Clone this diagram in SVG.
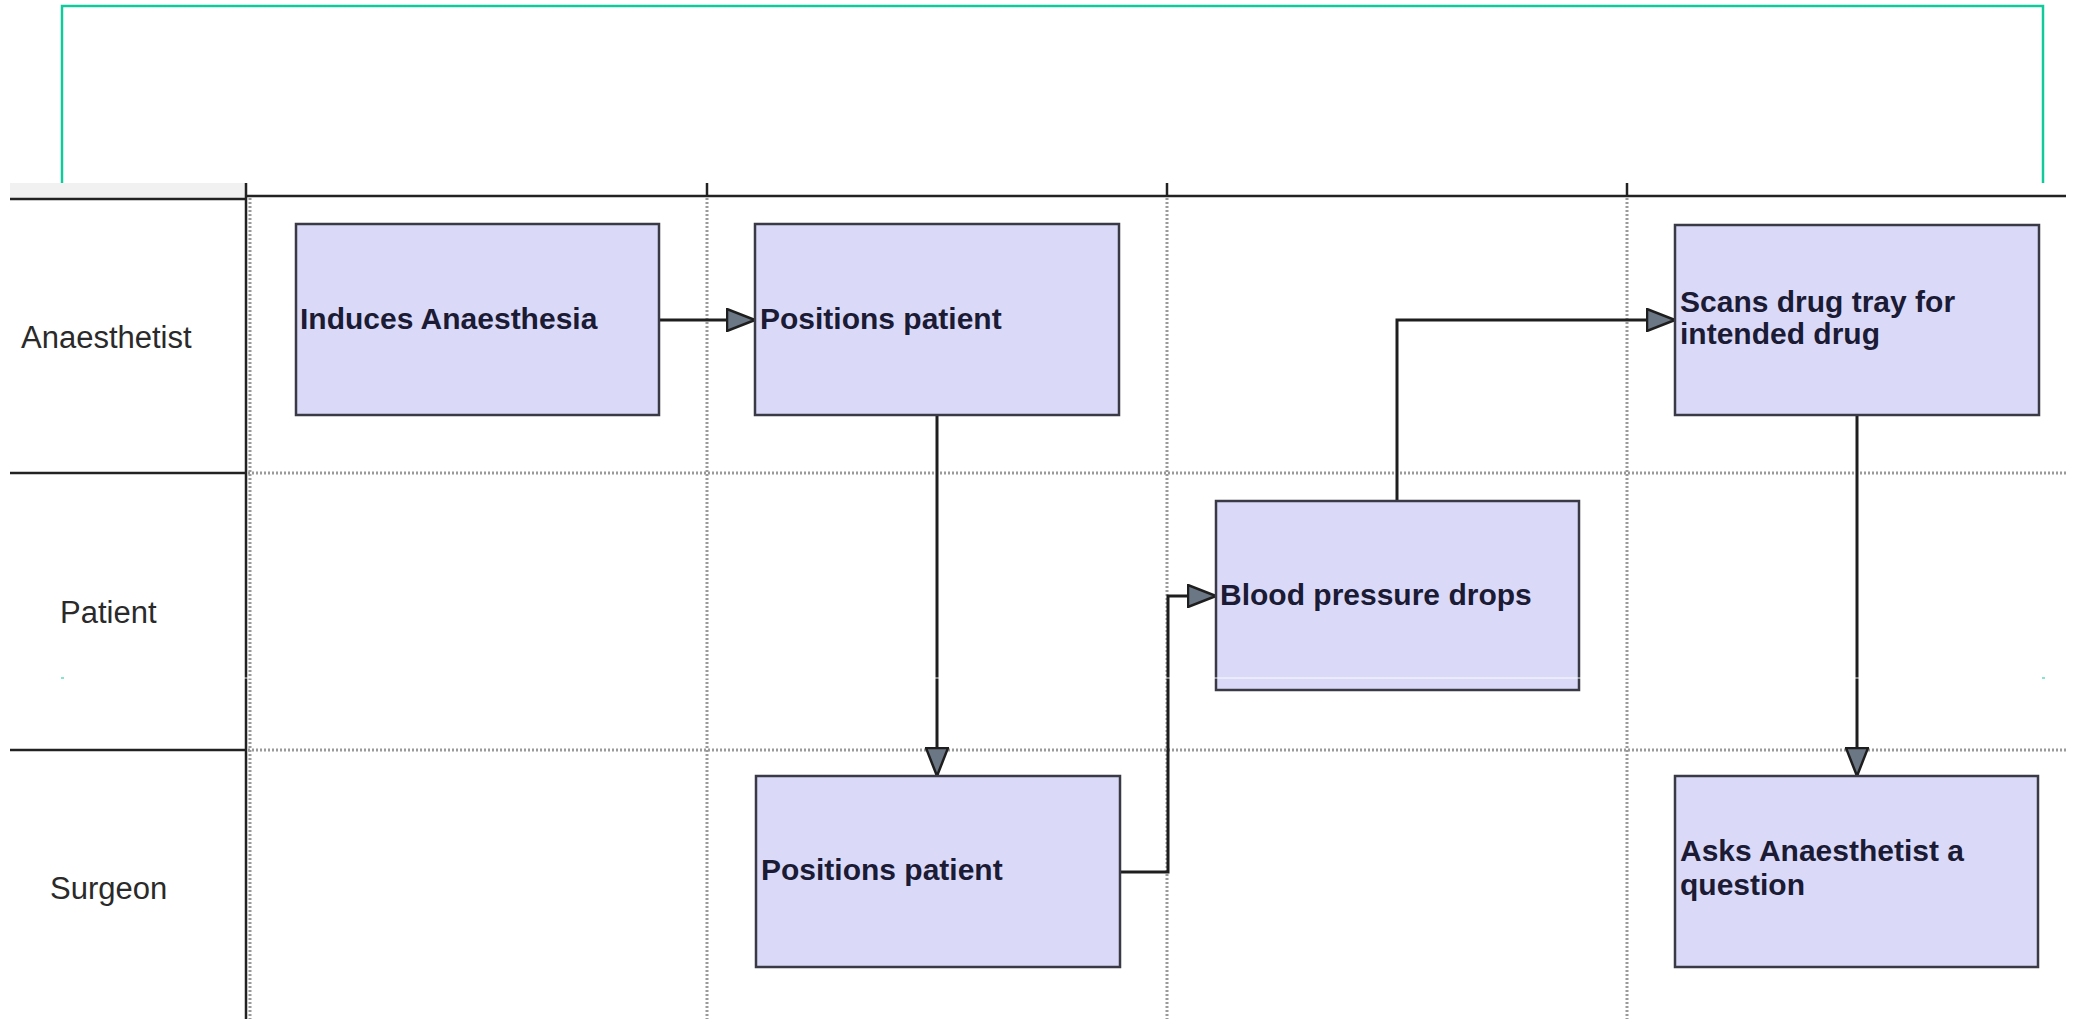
<svg xmlns="http://www.w3.org/2000/svg" width="2074" height="1019" viewBox="0 0 2074 1019">
  <style>
    .frame { fill: none; stroke: #12c99b; stroke-width: 2.5; }
    .lane-line { stroke: #222; stroke-width: 2.5; fill: none; }
    .grid { stroke: #9a9a9a; stroke-width: 3; stroke-dasharray: 2 2; fill: none; }
    .lane-label { font-family: "Liberation Sans", Arial, sans-serif; font-size: 31px; fill: #2a2a2a; }
    .box { fill: #dadaf8; stroke: #3a3a46; stroke-width: 2.5; }
    .box-text { font-family: "Liberation Sans", Arial, sans-serif; font-size: 30px; font-weight: bold; fill: #1b1b35; }
    .conn { fill: none; stroke: #1e1e1e; stroke-width: 3; }
  </style>
  <defs>
    <marker id="arrow" viewBox="0 0 30 24" refX="29" refY="12" markerWidth="30" markerHeight="24" markerUnits="userSpaceOnUse" orient="auto">
      <path d="M1,1 L29,12 L1,23 Z" fill="#6b7784" stroke="#1e1e1e" stroke-width="2.5" stroke-linejoin="miter"/>
    </marker>
  </defs>

  <rect x="0" y="0" width="2074" height="1019" fill="#ffffff"/>

  <!-- outer frame (only the top part shows above the swimlanes) -->
  <path class="frame" d="M62,183 L62,6 L2043,6 L2043,183"/>

  <!-- swimlane table -->
  <g id="lanes">
    <rect x="10" y="183" width="236" height="16" fill="#f1f1f1"/>
    <!-- header rules -->
    <line class="lane-line" x1="10" y1="199" x2="246" y2="199"/>
    <line class="lane-line" x1="246" y1="196" x2="2066" y2="196"/>
    <line class="lane-line" x1="246" y1="183" x2="246" y2="1019"/>
    <line class="lane-line" x1="707" y1="183" x2="707" y2="196"/>
    <line class="lane-line" x1="1167" y1="183" x2="1167" y2="196"/>
    <line class="lane-line" x1="1627" y1="183" x2="1627" y2="196"/>
    <!-- lane separators in the label column -->
    <line class="lane-line" x1="10" y1="473" x2="246" y2="473"/>
    <line class="lane-line" x1="10" y1="750" x2="246" y2="750"/>
    <!-- dotted grid in the body -->
    <line class="grid" x1="248" y1="473" x2="2066" y2="473"/>
    <line class="grid" x1="248" y1="750" x2="2066" y2="750"/>
    <line class="grid" x1="250" y1="198" x2="250" y2="1019"/>
    <line class="grid" x1="707" y1="198" x2="707" y2="1019"/>
    <line class="grid" x1="1167" y1="198" x2="1167" y2="1019"/>
    <line class="grid" x1="1627" y1="198" x2="1627" y2="1019"/>
    <!-- lane labels -->
    <text class="lane-label" x="21" y="348">Anaesthetist</text>
    <text class="lane-label" x="60" y="623">Patient</text>
    <text class="lane-label" x="50" y="899">Surgeon</text>
  </g>

  <!-- connectors -->
  <g id="connectors">
    <path class="conn" d="M659,320 L755,320" marker-end="url(#arrow)"/>
    <path class="conn" d="M937,415 L937,776" marker-end="url(#arrow)"/>
    <path class="conn" d="M1120,872 L1168,872 L1168,596 L1216,596" marker-end="url(#arrow)"/>
    <path class="conn" d="M1397,501 L1397,320 L1675,320" marker-end="url(#arrow)"/>
    <path class="conn" d="M1857,415 L1857,776" marker-end="url(#arrow)"/>
  </g>

  <!-- process nodes -->
  <g id="induces-anaesthesia">
    <rect class="box" x="296" y="224" width="363" height="191"/>
    <text class="box-text" x="300" y="329">Induces Anaesthesia</text>
  </g>
  <g id="anaesthetist-positions-patient">
    <rect class="box" x="755" y="224" width="364" height="191"/>
    <text class="box-text" x="760" y="329">Positions patient</text>
  </g>
  <g id="scans-drug-tray">
    <rect class="box" x="1675" y="225" width="364" height="190"/>
    <text class="box-text" x="1680" y="312">Scans drug tray for</text>
    <text class="box-text" x="1680" y="344">intended drug</text>
  </g>
  <g id="blood-pressure-drops">
    <rect class="box" x="1216" y="501" width="363" height="189"/>
    <text class="box-text" x="1220" y="605">Blood pressure drops</text>
  </g>
  <g id="surgeon-positions-patient">
    <rect class="box" x="756" y="776" width="364" height="191"/>
    <text class="box-text" x="761" y="880">Positions patient</text>
  </g>
  <g id="asks-anaesthetist">
    <rect class="box" x="1675" y="776" width="363" height="191"/>
    <text class="box-text" x="1680" y="861">Asks Anaesthetist a</text>
    <text class="box-text" x="1680" y="895">question</text>
  </g>

  <!-- faint seam across the drawing -->
  <line x1="62" y1="678" x2="2043" y2="678" stroke="#ffffff" stroke-width="1" opacity="0.9"/>
  <line x1="61" y1="678" x2="64" y2="678" stroke="#12c99b" stroke-width="1"/>
  <line x1="2042" y1="678" x2="2045" y2="678" stroke="#12c99b" stroke-width="1"/>
</svg>
